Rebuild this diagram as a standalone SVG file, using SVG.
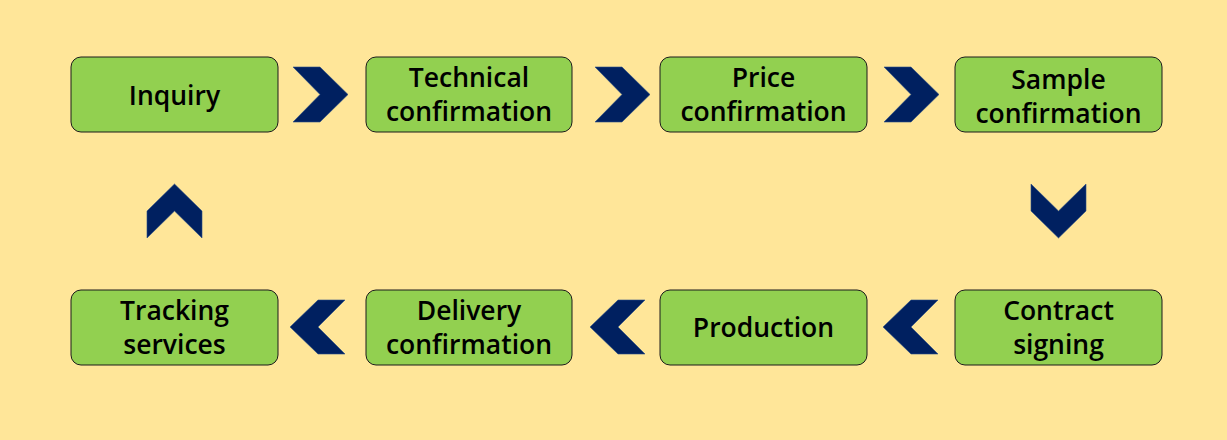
<svg xmlns="http://www.w3.org/2000/svg" width="1227" height="440" viewBox="0 0 1227 440">
<style>
.box{fill:#92D050;stroke:#1b1b1b;stroke-width:1}
.t{font-family:"Open Sans","Noto Sans","Liberation Sans",sans-serif;font-size:26.5px;font-weight:600;fill:#000;text-anchor:middle}
.ch{fill:#002060;stroke:#2a4f8a;stroke-width:0.6}
</style>
<rect width="1227" height="440" fill="#FFE699"/>
<g id="connectors">
<polygon class="ch" points="293,67 320,67 348,94.5 320,122 293,122 320,94.5"/>
<polygon class="ch" points="595,67 622,67 650,94.5 622,122 595,122 622,94.5"/>
<polygon class="ch" points="884,67 911,67 939,94.5 911,122 884,122 911,94.5"/>
<polygon class="ch" points="1031,184 1058.5,211 1086,184 1086,211 1058.5,238 1031,211"/>
<polygon class="ch" points="938,300 911,300 883,327 911,354 938,354 911,327"/>
<polygon class="ch" points="645,300 618,300 590,327 618,354 645,354 618,327"/>
<polygon class="ch" points="345,300 318,300 290,327 318,354 345,354 318,327"/>
<polygon class="ch" points="147,211 174.5,184 202,211 202,238 174.5,211 147,238"/>
</g>
<g id="inquiry"><rect class="box" x="71" y="57" width="207" height="75" rx="10"/><text class="t" x="174.5" y="105">Inquiry</text></g>
<g id="technical"><rect class="box" x="366" y="57" width="206" height="75" rx="10"/><text class="t" x="469" y="87">Technical</text><text class="t" x="469" y="121">confirmation</text></g>
<g id="price"><rect class="box" x="660" y="57" width="207" height="75" rx="10"/><text class="t" x="763.5" y="87">Price</text><text class="t" x="763.5" y="121">confirmation</text></g>
<g id="sample"><rect class="box" x="955" y="57" width="207" height="75" rx="10"/><text class="t" x="1058.5" y="89">Sample</text><text class="t" x="1058.5" y="123">confirmation</text></g>
<g id="contract"><rect class="box" x="955" y="290" width="207" height="75" rx="10"/><text class="t" x="1058.5" y="320">Contract</text><text class="t" x="1058.5" y="354">signing</text></g>
<g id="production"><rect class="box" x="660" y="290" width="207" height="75" rx="10"/><text class="t" x="763.5" y="337">Production</text></g>
<g id="delivery"><rect class="box" x="366" y="290" width="206" height="75" rx="10"/><text class="t" x="469" y="320">Delivery</text><text class="t" x="469" y="354">confirmation</text></g>
<g id="tracking"><rect class="box" x="71" y="290" width="207" height="75" rx="10"/><text class="t" x="174.5" y="320">Tracking</text><text class="t" x="174.5" y="354">services</text></g>
</svg>
